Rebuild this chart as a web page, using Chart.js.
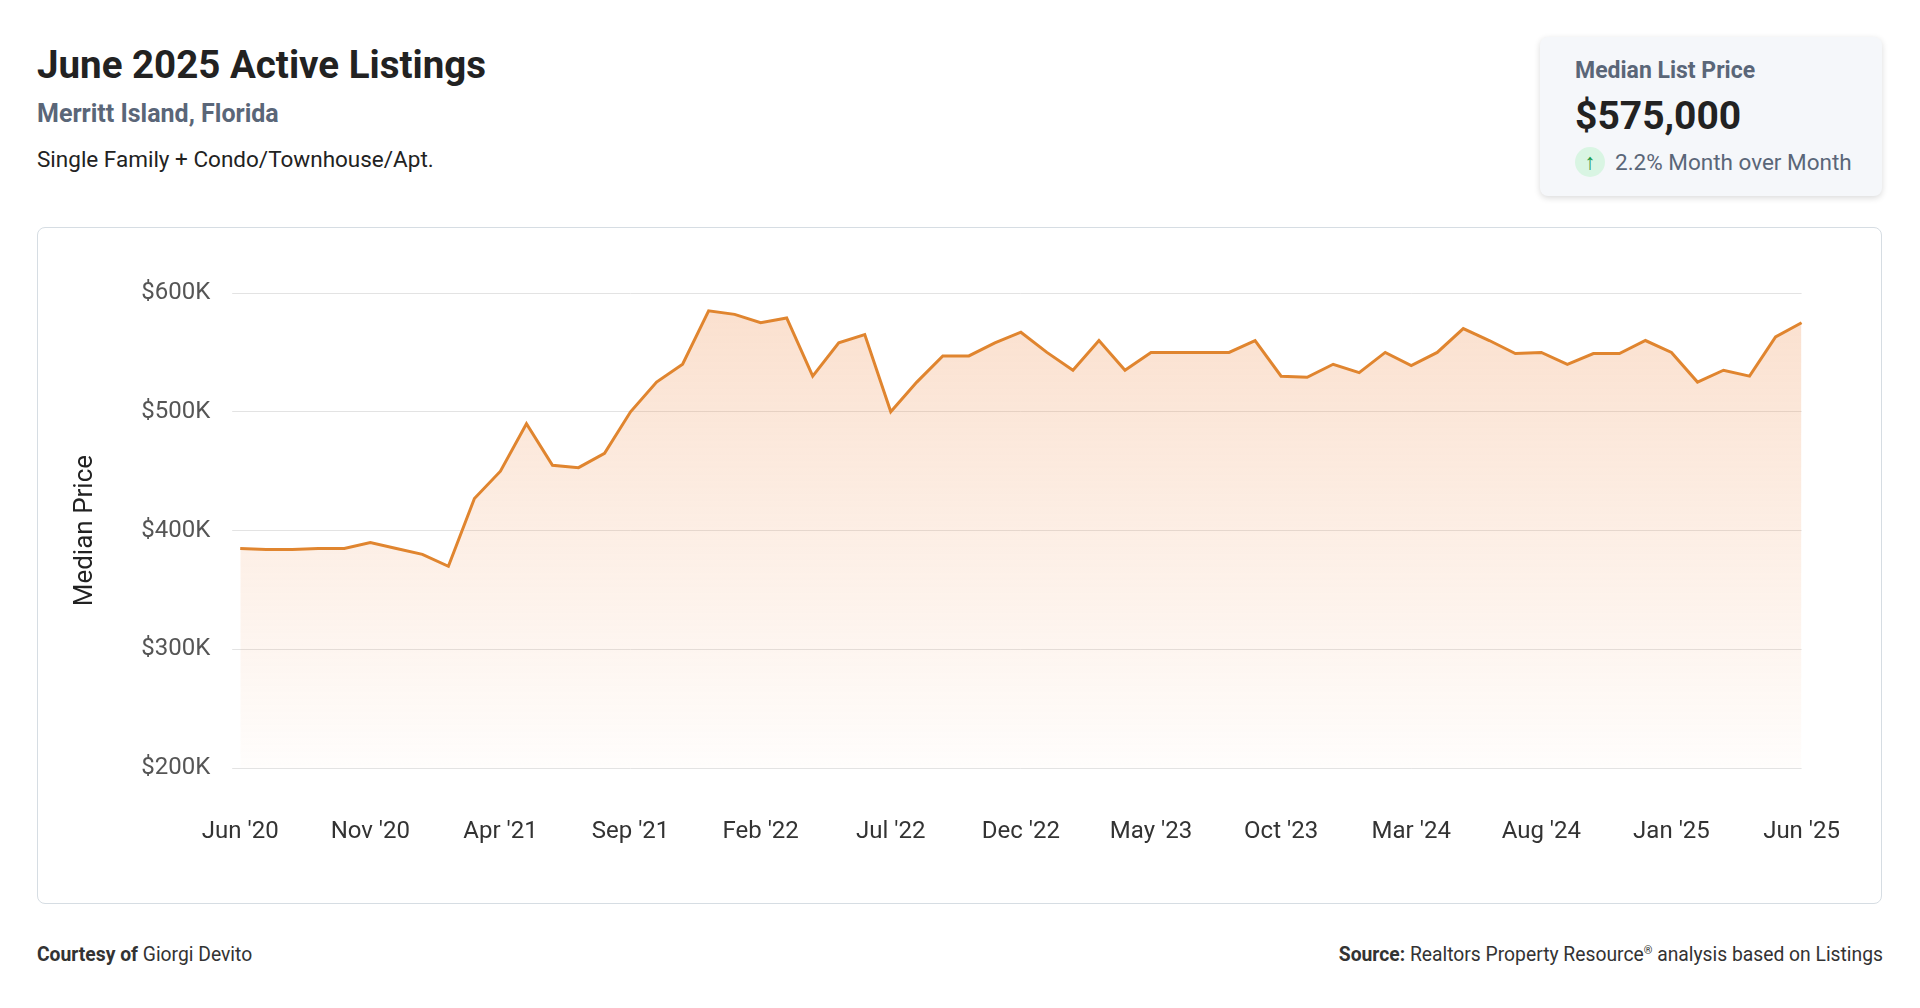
<!DOCTYPE html>
<html><head><meta charset="utf-8">
<script src="https://cdn.jsdelivr.net/npm/chart.js@4"></script>
<style>
body{margin:0;width:1920px;height:1008px;background:#fff;font-family:Roboto,sans-serif;position:relative;overflow:hidden}
.t{position:absolute;left:37px;top:42px;font-size:38.5px;font-weight:700;color:#222}
.s{position:absolute;left:37px;top:99px;font-size:25px;font-weight:700;color:#5a6678}
.d{position:absolute;left:37px;top:146px;font-size:22.5px;color:#222}
.kpi{position:absolute;left:1540px;top:37px;width:342px;height:159px;background:#f5f7fa;border-radius:8px;box-shadow:0 2px 6px rgba(0,0,0,.15)}
.k1{position:absolute;left:35px;top:20px;font-size:23px;font-weight:700;color:#5a6678}
.k2{position:absolute;left:35px;top:56px;font-size:39px;font-weight:700;color:#222}
.k3{position:absolute;left:35px;top:110px;font-size:22.5px;color:#5a6678;display:flex;align-items:center}
.arr{width:30px;height:30px;border-radius:50%;background:#d9f5e3;color:#1a9a4a;display:inline-flex;align-items:center;justify-content:center;font-size:22px;margin-right:10px}
.card{position:absolute;left:37px;top:227px;width:1843px;height:675px;border:1px solid #d6dde3;border-radius:8px}
.f{position:absolute;top:943px;font-size:19.3px;color:#333}
</style></head><body>
<div class="t">June 2025 Active Listings</div>
<div class="s">Merritt Island, Florida</div>
<div class="d">Single Family + Condo/Townhouse/Apt.</div>
<div class="kpi"><div class="k1">Median List Price</div><div class="k2">$575,000</div><div class="k3"><span class="arr">↑</span>2.2% Month over Month</div></div>
<div class="card"><canvas id="c" width="1843" height="675"></canvas></div>
<div class="f" style="left:37px"><b>Courtesy of</b> Giorgi Devito</div>
<div class="f" style="right:37px"><b>Source:</b> Realtors Property Resource<sup style="font-size:11px">®</sup> analysis based on Listings</div>
<script>
const months=["Jan","Feb","Mar","Apr","May","Jun","Jul","Aug","Sep","Oct","Nov","Dec"];
const labels=[];for(let i=0;i<61;i++){const m=(5+i)%12,y=20+Math.floor((5+i)/12);labels.push(months[m]+" '"+y);}
const prices=[385,384,384,385,385,390,385,380,370,427,450,490,455,453,465,500,525,540,585,582,575,579,530,558,565,500,525,547,547,558,567,550,535,560,535,550,550,550,550,560,530,529,540,533,550,539,550,570,560,549,550,540,549,549,560,550,525,535,530,563,575];
const ctx=document.getElementById('c').getContext('2d');
new Chart(ctx,{type:'line',data:{labels,datasets:[{data:prices.map(v=>v*1000),borderColor:'#e0852f',borderWidth:3,pointRadius:0,tension:0,fill:'start',
backgroundColor:(c)=>{const a=c.chart.chartArea;if(!a)return 'rgba(240,150,80,0.2)';const g=c.chart.ctx.createLinearGradient(0,a.top,0,a.bottom);g.addColorStop(0,'rgba(240,150,90,0.30)');g.addColorStop(1,'rgba(240,150,90,0.02)');return g;}}]},
options:{responsive:false,animation:false,plugins:{legend:{display:false},tooltip:{enabled:false}},
layout:{padding:{left:14,right:45,top:65,bottom:16}},
scales:{x:{grid:{display:false},border:{display:false},ticks:{autoSkip:false,maxRotation:0,color:'#333',font:{size:24,family:'Roboto'},padding:41,callback:(v,i)=>i%5===0?labels[i]:''}},
y:{min:200000,max:600000,ticks:{stepSize:100000,color:'#555',font:{size:24,family:'Roboto'},padding:22,callback:v=>'$'+v/1000+'K'},grid:{color:'#e3e3e3'},border:{display:false},
title:{display:true,text:'Median Price',color:'#222',font:{size:26,family:'Roboto'},padding:18}}}}});
</script></body></html>
